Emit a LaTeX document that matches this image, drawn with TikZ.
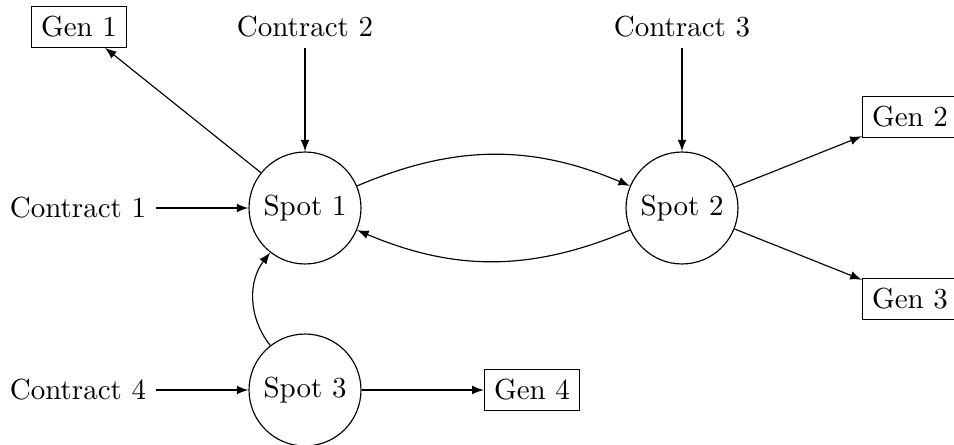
\documentclass[tikz,border=0pt]{standalone}
\usetikzlibrary{arrows}
\begin{document}
\begin{tikzpicture}[x=0.3448pt,y=-0.3448pt,>=latex,
  spot/.style={circle,draw},
  gen/.style={rectangle,draw},
  lbl/.style={}]
\useasboundingbox (0,0) rectangle (954,444);
\node[gen] (g1) at (79,27) {Gen 1};
\node[lbl] (c2) at (305,27) {Contract 2};
\node[lbl] (c3) at (682,27) {Contract 3};
\node[gen] (g2) at (910,117) {Gen 2};
\node[lbl] (c1) at (78,208) {Contract 1};
\node[spot] (s1) at (305,208) {Spot 1};
\node[spot] (s2) at (682,208) {Spot 2};
\node[gen] (g3) at (910,299) {Gen 3};
\node[lbl] (c4) at (78,390) {Contract 4};
\node[spot] (s3) at (305,390) {Spot 3};
\node[gen] (g4) at (532,390) {Gen 4};
\draw[->] (s1) -- (g1);
\draw[->] (c2) -- (s1);
\draw[->] (c1) -- (s1);
\draw[->] (c3) -- (s2);
\draw[->] (s2) -- (g2);
\draw[->] (s2) -- (g3);
\draw[->] (s1) to[bend left=23] (s2);
\draw[->] (s2) to[bend left=23] (s1);
\draw[->] (s3) to[bend left=38] (s1);
\draw[->] (c4) -- (s3);
\draw[->] (s3) -- (g4);
\end{tikzpicture}
\end{document}
